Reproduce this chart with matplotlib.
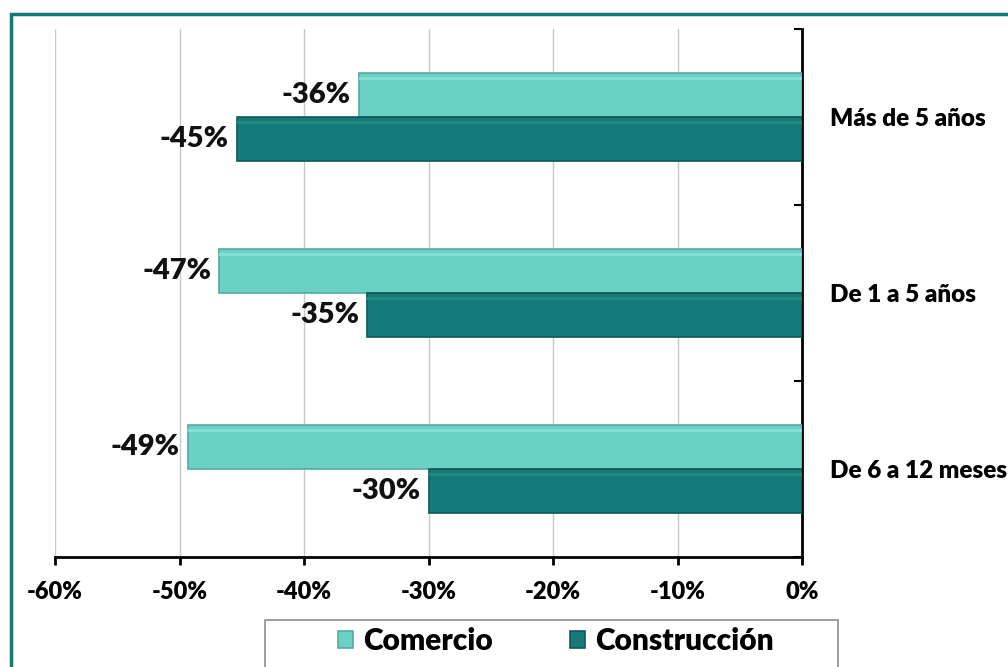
import matplotlib
matplotlib.use("Agg")
import matplotlib.pyplot as plt
from matplotlib.patches import Rectangle
from matplotlib.ticker import FixedLocator, FuncFormatter
import numpy as np

categories = ["De 6 a 12 meses", "De 1 a 5 años", "Más de 5 años"]
comercio = [-49.3, -46.8, -35.6]
construccion = [-30.0, -34.9, -45.4]
series_names = ["Comercio", "Construcción"]
xticks = [-60, -50, -40, -30, -20, -10, 0]

c_light = "#6bd1c5"
c_dark = "#157a79"
plt.rcParams['font.family'] = ['Lato', 'DejaVu Sans']
FW = "heavy"

W, H = 1008, 667
fig = plt.figure(figsize=(W / 100, H / 100), dpi=100)

# figure border
fig.patches.append(Rectangle((11 / W, -0.1), 1.2, 1 - 14 / H + 0.1, transform=fig.transFigure,
                             fill=False, edgecolor="#147a78", linewidth=2.5, zorder=0))

ax = fig.add_axes([55 / W, 1 - 557 / H, (802 - 55) / W, (557 - 29) / H])
y = np.arange(len(categories))
h = 0.25
b1 = ax.barh(y + h / 2, comercio, height=h, color=c_light, edgecolor="#55aba1", linewidth=1.2,
             label=series_names[0], zorder=3)
b2 = ax.barh(y - h / 2, construccion, height=h, color=c_dark, edgecolor="#0d5958", linewidth=1.2,
             label=series_names[1], zorder=3)
# subtle highlight stripes near top edge
for bars, col in ((b1, "#84ded3"), (b2, "#22897f")):
    for r in bars:
        x0 = r.get_x(); wd = r.get_width(); y0 = r.get_y(); ht = r.get_height()
        ax.barh(y0 + ht * 0.88, wd, height=ht * 0.08, left=x0, color=col, linewidth=0, zorder=4)

for bars, vals in ((b1, comercio), (b2, construccion)):
    ax.bar_label(bars, labels=[f"{v:.0f}%" for v in vals], padding=6, fontsize=21,
                 fontweight=FW, color="#111111")

ax.set_xlim(-60, 0)
ax.set_ylim(-0.5, 2.5)
ax.xaxis.set_major_locator(FixedLocator(xticks))
ax.xaxis.set_major_formatter(FuncFormatter(lambda v, p: f"{v:.0f}%"))
ax.grid(axis="x", color="#c8c8c8", linewidth=1, zorder=0)
ax.set_axisbelow(True)

ax.spines["left"].set_visible(False)
ax.spines["top"].set_visible(False)
ax.spines["bottom"].set_linewidth(2)
ax.spines["right"].set_linewidth(2)

ax.yaxis.tick_right()
ax.set_yticks(y)
ax.set_yticklabels(categories)
ax.yaxis.set_minor_locator(FixedLocator([-0.5, 0.5, 1.5, 2.5]))
ax.tick_params(axis="y", which="major", length=0, pad=20, labelsize=17.5)
ax.tick_params(axis="y", which="minor", direction="in", length=6, width=1.5, color="black")
ax.tick_params(axis="x", which="major", direction="out", length=6, width=2, pad=11, labelsize=17)
for t in ax.get_yticklabels() + ax.get_xticklabels():
    t.set_fontweight(FW)

# legend box
fig.patches.append(Rectangle((265 / W, -0.05), (838 - 265) / W, 1 - 620 / H + 0.05,
                             transform=fig.transFigure, fill=False, edgecolor="#8c8c8c",
                             linewidth=1.2, zorder=5))
leg = fig.legend(handles=[b1, b2], labels=series_names, loc="center", ncol=2,
                 bbox_to_anchor=(556 / W, 1 - 641 / H), frameon=False,
                 prop={"weight": FW, "size": 21.5}, handlelength=0.48, handleheight=0.48,
                 handletextpad=0.35, columnspacing=2.6)

fig.savefig("out.png", dpi=100)
